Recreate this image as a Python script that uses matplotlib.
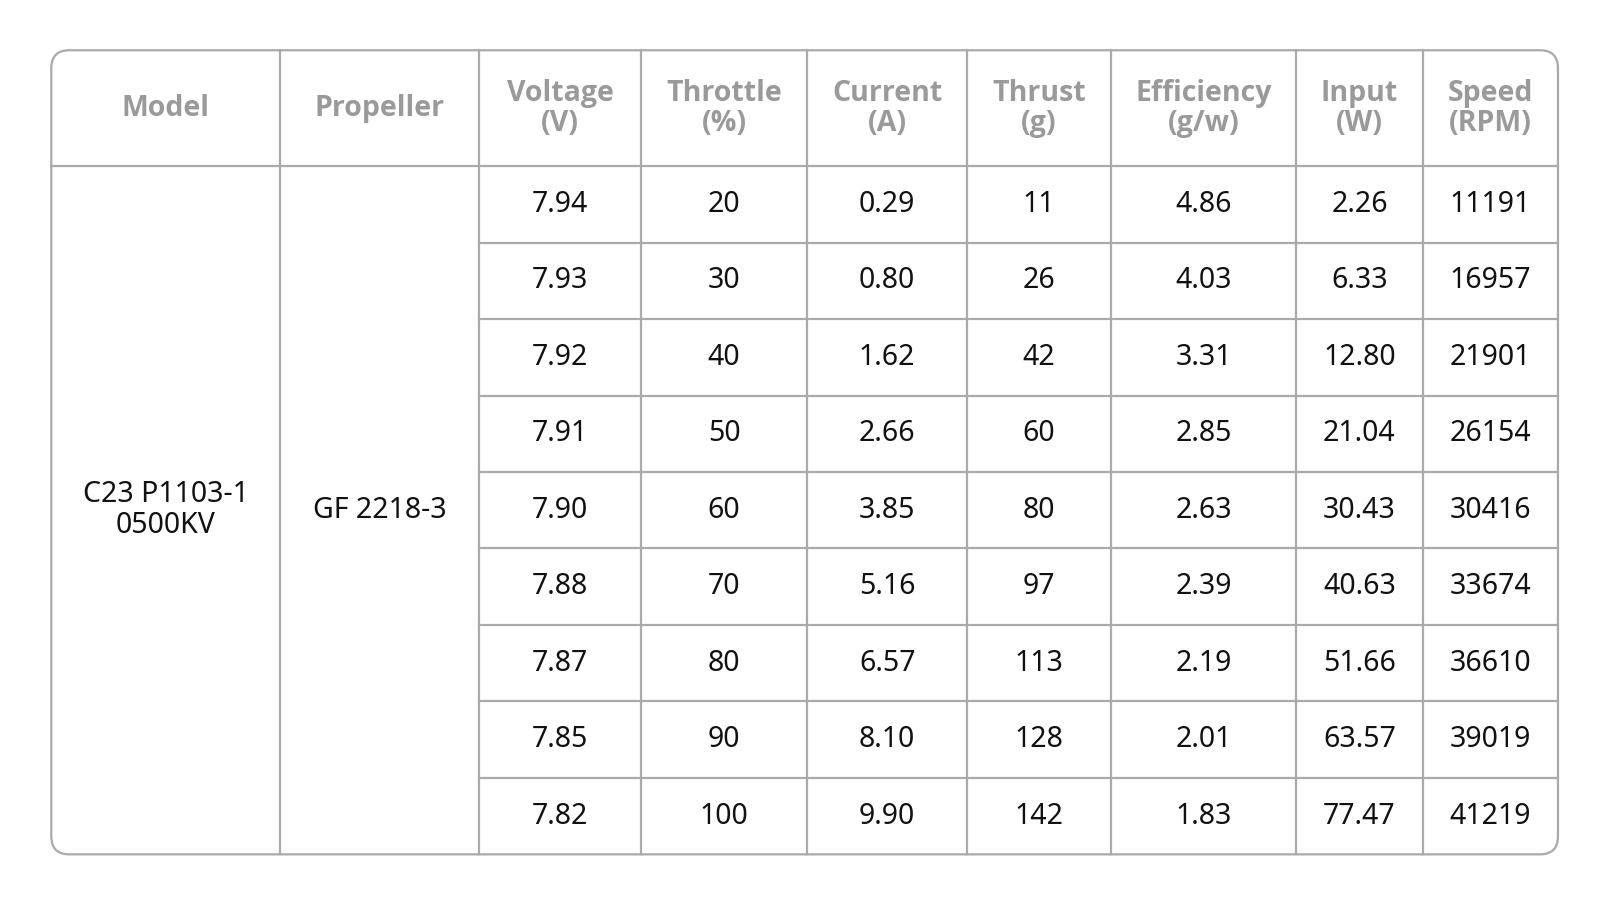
import matplotlib
matplotlib.use("Agg")
import matplotlib.pyplot as plt
from matplotlib.patches import FancyBboxPatch

headers = ["Model", "Propeller", "Voltage\n(V)", "Throttle\n(%)", "Current\n(A)", "Thrust\n(g)",
           "Efficiency\n(g/w)", "Input\n(W)", "Speed\n(RPM)"]
model = "C23 P1103-1\n0500KV"
propeller = "GF 2218-3"
voltage = ["7.94", "7.93", "7.92", "7.91", "7.90", "7.88", "7.87", "7.85", "7.82"]
throttle = ["20", "30", "40", "50", "60", "70", "80", "90", "100"]
current = ["0.29", "0.80", "1.62", "2.66", "3.85", "5.16", "6.57", "8.10", "9.90"]
thrust = ["11", "26", "42", "60", "80", "97", "113", "128", "142"]
efficiency = ["4.86", "4.03", "3.31", "2.85", "2.63", "2.39", "2.19", "2.01", "1.83"]
input_w = ["2.26", "6.33", "12.80", "21.04", "30.43", "40.63", "51.66", "63.57", "77.47"]
speed = ["11191", "16957", "21901", "26154", "30416", "33674", "36610", "39019", "41219"]

cols = [voltage, throttle, current, thrust, efficiency, input_w, speed]

s = 1600 / 1560
xe = [v * s for v in [50, 273, 467, 625, 787, 943, 1083, 1264, 1387, 1519]]
ytop, yhead, ybot = 49 * s, 162 * s, 833 * s
nrows = len(voltage)
rh = (ybot - yhead) / nrows
ye = [yhead + i * rh for i in range(nrows + 1)]

fig = plt.figure(figsize=(16, 9), dpi=100)
ax = fig.add_axes([0, 0, 1, 1])
ax.set_xlim(0, 1600); ax.set_ylim(900, 0); ax.axis("off")
lc = "#aaaaaa"; lw = 1.6
ax.add_patch(FancyBboxPatch((xe[0], ytop), xe[-1] - xe[0], ybot - ytop,
             boxstyle="round,pad=0,rounding_size=18", fill=False, ec=lc, lw=lw))
for x in xe[1:-1]:
    ax.plot([x, x], [ytop, ybot], color=lc, lw=lw)
ax.plot([xe[0], xe[-1]], [yhead, yhead], color=lc, lw=lw)
for y in ye[1:-1]:
    ax.plot([xe[2], xe[-1]], [y, y], color=lc, lw=lw)

for i, h in enumerate(headers):
    ax.text((xe[i] + xe[i+1]) / 2, (ytop + yhead) / 2, h, ha="center", va="center",
            fontsize=20.5, color="#9a9a9a", fontweight="bold", family="Open Sans", linespacing=1.05)
ax.text((xe[0] + xe[1]) / 2, (yhead + ybot) / 2, model, ha="center", va="center",
        fontsize=20.5, color="#111", family="Noto Sans", linespacing=1.1)
ax.text((xe[1] + xe[2]) / 2, (yhead + ybot) / 2, propeller, ha="center", va="center",
        fontsize=20.5, color="#111", family="Noto Sans")
for j, col in enumerate(cols):
    cx = (xe[j+2] + xe[j+3]) / 2
    for r, v in enumerate(col):
        ax.text(cx, (ye[r] + ye[r+1]) / 2, v, ha="center", va="center",
                fontsize=20.5, color="#111", family="Noto Sans")
fig.savefig("out.png", dpi=100, facecolor="white")
